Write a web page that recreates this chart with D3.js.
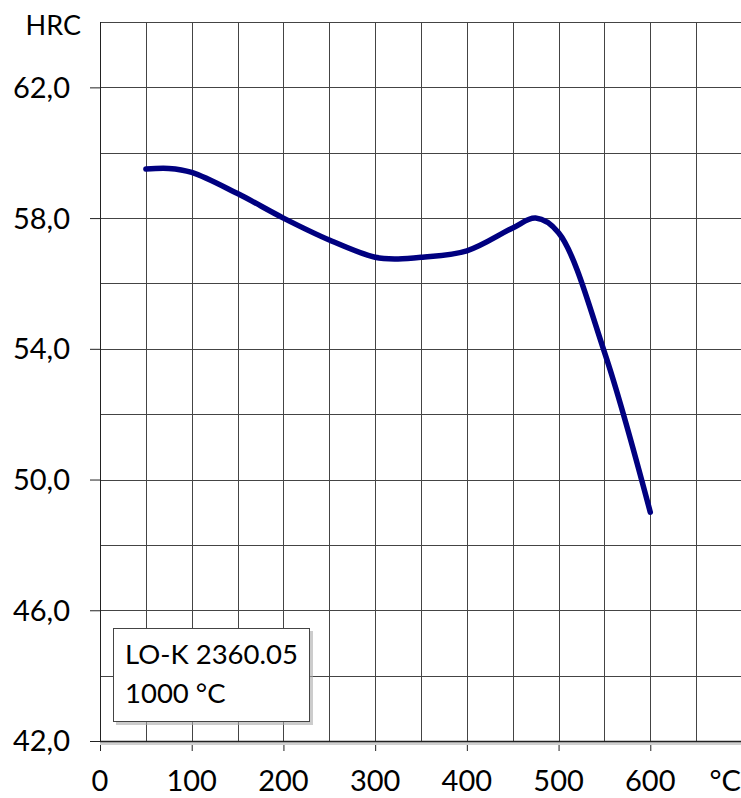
<!DOCTYPE html>
<html><head><meta charset="utf-8">
<script src="https://cdn.jsdelivr.net/npm/d3@7"></script>
<style>
html,body{margin:0;padding:0;background:#fff;}
svg{display:block;font-family:Lato,"Open Sans",sans-serif;}
</style></head>
<body>
<svg id="chart" width="741" height="798"></svg>
<script>
// Data
const temps    = [50, 75, 100, 150, 200, 250, 300, 325, 350, 400, 450, 475, 500, 550, 600];
const hardness = [59.5, 59.52, 59.4, 58.75, 58.0, 57.33, 56.8, 56.75, 56.8, 57.0, 57.7, 58.0, 57.55, 53.9, 49.0];
const xTickLabels = [0, 100, 200, 300, 400, 500, 600];
const yTickLabels = [42, 46, 50, 54, 58, 62];
const legendLines = ["LO-K 2360.05", "1000 °C"];
const xUnit = "°C";
const yUnit = "HRC";

const svg = d3.select("#chart");
const pLeft = 100, pRight = 742, pTop = 22, pBottom = 741;

const x = d3.scaleLinear().domain([0, 700]).range([pLeft, pRight]);
const y = d3.scaleLinear().domain([42, 64]).range([pBottom, pTop]);

// grid
const grid = svg.append("g");
grid.selectAll("line.v").data(d3.range(50, 701, 50)).join("line")
  .attr("x1", d => Math.round(x(d)) + 0.5).attr("x2", d => Math.round(x(d)) + 0.5)
  .attr("y1", pTop).attr("y2", pBottom)
  .attr("stroke", "#444").attr("stroke-width", 1);
grid.selectAll("line.h").data(d3.range(44, 64.1, 2)).join("line")
  .attr("y1", d => Math.round(y(d)) + 0.5).attr("y2", d => Math.round(y(d)) + 0.5)
  .attr("x1", pLeft).attr("x2", pRight)
  .attr("stroke", "#444").attr("stroke-width", 1);

// axes
const xAxis = d3.axisBottom(x).tickValues(xTickLabels).tickSize(10).tickFormat("");
const gx = svg.append("g").attr("transform", `translate(0,${pBottom})`).call(xAxis);
gx.select(".domain").remove();
gx.selectAll(".tick line").attr("stroke", "#222");

const yAxis = d3.axisLeft(y).tickValues(yTickLabels).tickSize(10).tickFormat("");
const gy = svg.append("g").attr("transform", `translate(${pLeft},0)`).call(yAxis);
gy.select(".domain").remove();
gy.selectAll(".tick line").attr("stroke", "#222");

// axis lines
svg.append("line").attr("x1", pLeft + 0.5).attr("x2", pLeft + 0.5).attr("y1", pTop).attr("y2", pBottom)
  .attr("stroke", "#222").attr("stroke-width", 1);
svg.append("rect").attr("x", pLeft).attr("y", pBottom + 1).attr("width", pRight - pLeft).attr("height", 3)
  .attr("fill", "#d0d0d0");
svg.append("line").attr("x1", pLeft).attr("x2", pRight).attr("y1", pBottom + 0.5).attr("y2", pBottom + 0.5)
  .attr("stroke", "#222").attr("stroke-width", 1.5);

// tick labels
svg.append("g").selectAll("text").data(yTickLabels).join("text")
  .attr("x", 70).attr("y", d => y(d)).attr("dy", "0.36em")
  .attr("text-anchor", "end").attr("font-size", 29).attr("fill", "#000")
  .text(d => d.toFixed(1).replace(".", ","));
svg.append("g").selectAll("text").data(xTickLabels).join("text")
  .attr("x", d => x(d)).attr("y", 791)
  .attr("text-anchor", "middle").attr("font-size", 29).attr("fill", "#000")
  .text(d => d);
svg.append("text").attr("x", 741).attr("y", 791).attr("text-anchor", "end")
  .attr("font-size", 29).text(xUnit);
svg.append("text").attr("x", 81).attr("y", 35).attr("text-anchor", "end")
  .attr("font-size", 27).text(yUnit);

// curve
const line = d3.line().x((d, i) => x(temps[i])).y(d => y(d)).curve(d3.curveCatmullRom.alpha(0.5));
svg.append("path").datum(hardness).attr("d", line)
  .attr("fill", "none").attr("stroke", "#000080").attr("stroke-width", 5.5)
  .attr("stroke-linecap", "round").attr("stroke-linejoin", "round");

// legend box
const lg = svg.append("g");
lg.append("rect").attr("x", 116).attr("y", 631).attr("width", 197).attr("height", 94).attr("fill", "#aaa").attr("opacity", 0.6);
lg.append("rect").attr("x", 113.5).attr("y", 628.5).attr("width", 196).attr("height", 93)
  .attr("fill", "#fff").attr("stroke", "#444").attr("stroke-width", 1);
lg.selectAll("text").data(legendLines).join("text")
  .attr("x", 125).attr("y", (d, i) => 664 + i * 39)
  .attr("font-size", 27.5).attr("fill", "#000").text(d => d);
</script>
</body></html>
